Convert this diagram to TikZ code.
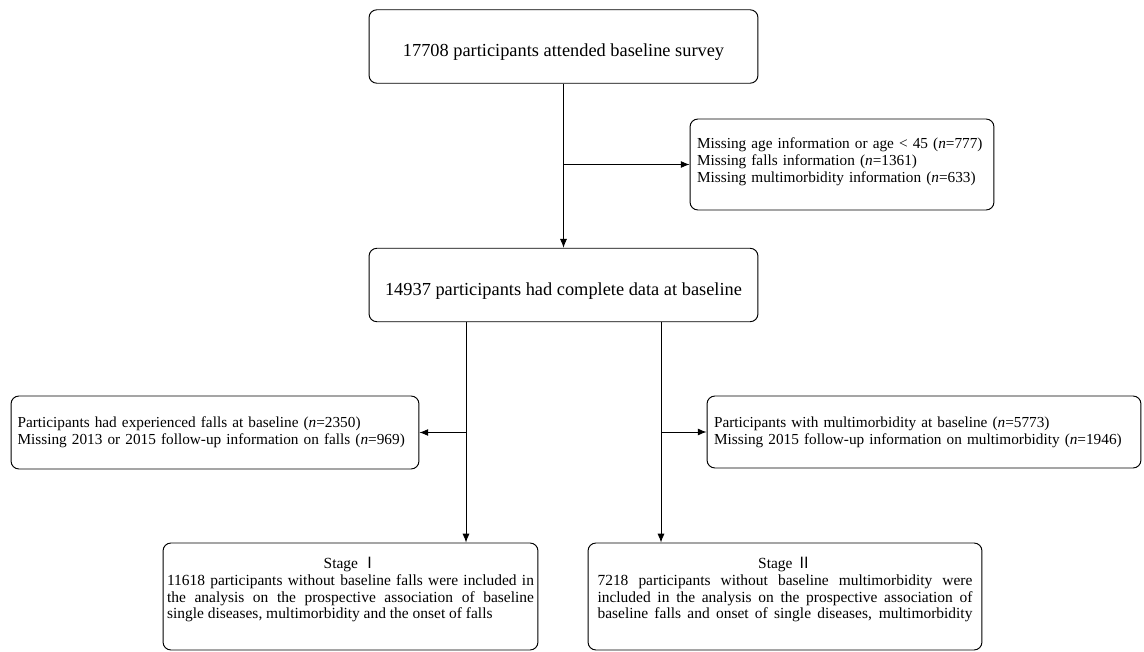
\documentclass[tikz,border=0pt]{standalone}
\usepackage{fontspec}
\setmainfont{Liberation Serif}
\newfontfamily\cjk{Noto Sans CJK SC}
\usetikzlibrary{arrows.meta,calc}

\tikzset{
  mainbox/.style={draw, rounded corners=4.5pt, line width=0.55pt, minimum width=7.78cm, minimum height=1.47cm, text height=11.4pt, text depth=0pt, font=\fontsize{10.45}{12.5}\selectfont},
  sidebox/.style={draw, rounded corners=4.5pt, line width=0.55pt, align=left, inner sep=2pt, font=\fontsize{8.7}{9.7}\selectfont},
  stagebox/.style={sidebox, align=justify, minimum height=2.14cm, font=\fontsize{8.8}{9.5}\selectfont},
  link/.style={line width=0.5pt, -{Latex[length=5pt,width=4pt]}},
}

\begin{document}
\begin{tikzpicture}[x=0.02cm,y=-0.02cm]
\useasboundingbox (0,0) rectangle (1144,652);

\node[mainbox] (base) at (563.5,46.5) {17708 participants attended baseline survey};
\node[sidebox,minimum width=6.08cm,minimum height=1.82cm,text width=5.8cm] (excl) at (842,164.5)
  {Missing age information or age < 45 (\textit{n}=777)\\
   Missing falls information (\textit{n}=1361)\\
   Missing multimorbidity information (\textit{n}=633)\\[-4.6pt]
   \mbox{}};
\node[mainbox] (full) at (563.5,285) {14937 participants had complete data at baseline};

\node[sidebox,minimum width=8.16cm,minimum height=1.46cm,text width=7.9cm] (lft) at (215,432.5)
  {Participants had experienced falls at baseline (\textit{n}=2350)\\
   Missing 2013 or 2015 follow-up information on falls (\textit{n}=969)};
\node[sidebox,minimum width=8.68cm,minimum height=1.44cm,text width=8.4cm] (rgt) at (924,432)
  {Participants with multimorbidity at baseline (\textit{n}=5773)\\
   Missing 2015 follow-up information on multimorbidity (\textit{n}=1946)};

% stage boxes
\node[stagebox,minimum width=7.5cm,text width=7.34cm] (s1) at (350.5,596.5)
  {\makebox[7.34cm]{Stage {\cjk Ⅰ}}\\
   \makebox[7.34cm][s]{11618 participants without baseline falls were included in}\\
   \makebox[7.34cm][s]{the analysis on the prospective association of baseline}\\
   \makebox[7.34cm][l]{single diseases, multimorbidity and the onset of falls}\\
   \mbox{}};
\node[stagebox,minimum width=7.88cm,text width=7.5cm] (s2) at (785,596.5)
  {\makebox[7.5cm]{Stage {\cjk Ⅱ}}\\
   \makebox[7.5cm][s]{7218 participants without baseline multimorbidity were}\\
   \makebox[7.5cm][s]{included in the analysis on the prospective association of}\\
   \makebox[7.5cm][s]{baseline falls and onset of single diseases, multimorbidity}\\
   \mbox{}};

\coordinate (fl) at ($(full.south)+(-97.5,0)$);
\coordinate (fr) at ($(full.south)+(97.5,0)$);

\draw[link] (base) -- (full);
\draw[link] (base.south |- excl.west) -- (excl.west);
\draw[link] (fl) -- (fl |- s1.north);
\draw[link] (fl |- lft.east) -- (lft.east);
\draw[link] (fr) -- (fr |- s2.north);
\draw[link] (fr |- rgt.west) -- (rgt.west);
\end{tikzpicture}
\end{document}
